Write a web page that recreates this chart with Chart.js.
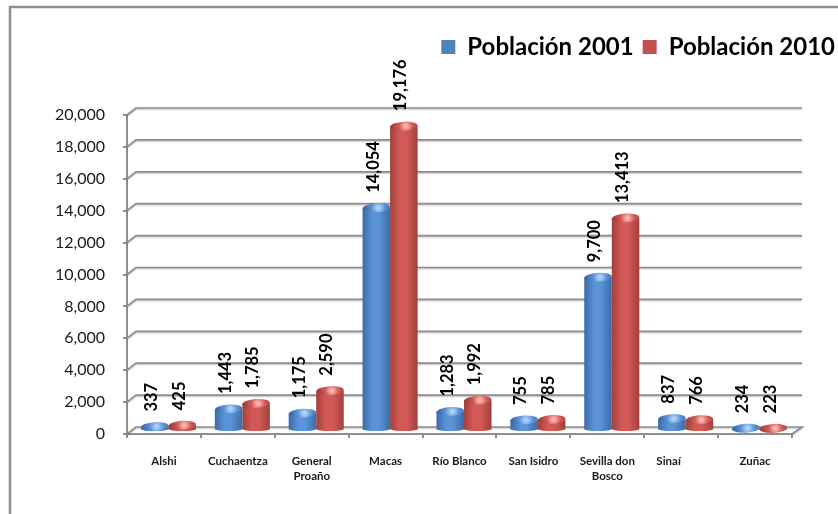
<!DOCTYPE html>
<html>
<head>
<meta charset="utf-8">
<script src="https://cdn.jsdelivr.net/npm/chart.js@4"></script>
<style>
  html, body { margin: 0; background: #fff; }
  canvas { display: block; }
</style>
</head>
<body>
<canvas id="chart" width="838" height="514"></canvas>
<script>
// Datos
const categories = ['Alshi', 'Cuchaentza', ['General', 'Proaño'], 'Macas', 'Río Blanco', 'San Isidro', ['Sevilla don', 'Bosco'], 'Sinaí', 'Zuñac'];
const poblacion2001 = [337, 1443, 1175, 14054, 1283, 755, 9700, 837, 234];
const poblacion2010 = [425, 1785, 2590, 19176, 1992, 785, 13413, 766, 223];

const FONT = 'Lato, Carlito, sans-serif';
const GRID = '#8e8e8e';

// colores del cilindro: borde, claro, brillo
const shades = [
    { edge: '#3b6ba6', mid: '#5b93d8', glow: '#b4d4f7' },
    { edge: '#a33f3c', mid: '#d25a56', glow: '#ffb8b6' }
];

// plano de las barras respecto al eje frontal
const BAR_DX = 4.5, BAR_DY = -2;
const CAP_RY = 4.5;

function drawCylinder(ctx, bar, shade) {
    const cx = bar.x + BAR_DX, w = bar.width, r = w / 2;
    const top = bar.y + BAR_DY, base = bar.base + BAR_DY;

    const g = ctx.createLinearGradient(cx - r, 0, cx + r, 0);
    g.addColorStop(0, shade.edge);
    g.addColorStop(0.35, shade.mid);
    g.addColorStop(0.6, shade.mid);
    g.addColorStop(1, shade.edge);

    ctx.fillStyle = g;
    ctx.beginPath();
    ctx.moveTo(cx - r, top);
    ctx.lineTo(cx - r, base - 2);
    ctx.ellipse(cx, base - 2, r, 2, 0, Math.PI, 0, true);
    ctx.lineTo(cx + r, top);
    ctx.closePath();
    ctx.fill();

    // tapa
    const cap = ctx.createRadialGradient(cx + 2, top, 1, cx + 2, top, r);
    cap.addColorStop(0, shade.glow);
    cap.addColorStop(0.45, shade.mid);
    cap.addColorStop(1, shade.edge);
    ctx.fillStyle = cap;
    ctx.beginPath();
    ctx.ellipse(cx, top, r, CAP_RY, -0.06, 0, Math.PI * 2);
    ctx.fill();
}

const threeD = {
    id: 'threeD',
    afterLayout(chart) {
        // la leyenda llega hasta el borde derecho
        const legend = chart.legend;
        const shift = 844 - legend.right;
        legend.left += shift;
        legend.right += shift;
        legend.top = 26;
    },
    beforeDraw(chart) {
        const ctx = chart.ctx;
        ctx.save();
        ctx.strokeStyle = GRID;
        ctx.lineWidth = 2.5;
        ctx.beginPath();
        ctx.moveTo(10, 514);
        ctx.lineTo(10, 7);
        ctx.lineTo(838, 7);
        ctx.stroke();
        ctx.restore();
    },
    beforeDatasetsDraw(chart) {
        const ctx = chart.ctx, y = chart.scales.y, a = chart.chartArea;
        ctx.save();
        ctx.strokeStyle = GRID;
        ctx.lineWidth = 1.7;
        ctx.shadowColor = 'rgba(0,0,0,0.25)';
        ctx.shadowBlur = 1.5;
        ctx.shadowOffsetY = 1;
        y.ticks.forEach(t => {
            const py = y.getPixelForValue(t.value);
            ctx.beginPath();
            ctx.moveTo(a.left, py);
            ctx.lineTo(a.left + 9, py - 7);
            ctx.lineTo(a.right + 10, py - 7);
            if (t.value === 0) ctx.lineTo(a.right, py);
            ctx.stroke();
        });
        ctx.restore();
    },
    beforeDatasetDraw(chart, args) {
        const ctx = chart.ctx;
        ctx.save();
        args.meta.data.forEach(bar => drawCylinder(ctx, bar, shades[args.index]));
        ctx.restore();
        return false;
    },
    afterDatasetsDraw(chart) {
        const ctx = chart.ctx;
        ctx.save();
        ctx.fillStyle = '#000';
        ctx.font = 'bold 16.5px ' + FONT;
        ctx.textAlign = 'left';
        ctx.textBaseline = 'middle';
        chart.data.datasets.forEach((ds, i) => {
            chart.getDatasetMeta(i).data.forEach((bar, j) => {
                ctx.save();
                ctx.translate(bar.x + BAR_DX - 3, bar.y + BAR_DY - CAP_RY - 10.5);
                ctx.rotate(-Math.PI / 2);
                ctx.fillText(ds.data[j].toLocaleString('en-US'), 0, 0);
                ctx.restore();
            });
        });
        ctx.restore();
    }
};

new Chart(document.getElementById('chart'), {
    type: 'bar',
    data: {
        labels: categories,
        datasets: [
            { label: 'Población 2001', data: poblacion2001, backgroundColor: '#4f81bd' },
            { label: 'Población 2010', data: poblacion2010, backgroundColor: '#c0504d' }
        ]
    },
    plugins: [threeD],
    options: {
        responsive: false,
        animation: false,
        barPercentage: 1,
        categoryPercentage: 0.745,
        layout: { padding: { left: 10, top: 72, right: 46, bottom: 20 } },
        plugins: {
            tooltip: { enabled: false },
            legend: {
                position: 'top',
                align: 'end',
                labels: {
                    boxWidth: 14,
                    boxHeight: 14,
                    padding: 9,
                    color: '#000',
                    font: { family: FONT, size: 24, weight: 'bold' }
                }
            }
        },
        scales: {
            x: {
                afterFit(s) { s.height = 60; },
                border: { color: GRID, width: 2 },
                grid: { drawOnChartArea: false, color: GRID, lineWidth: 2, tickLength: 4 },
                ticks: {
                    color: '#1a1a1a',
                    padding: 16,
                    maxRotation: 0,
                    autoSkip: false,
                    font: { family: FONT, size: 11.5, weight: 'bold', lineHeight: 1.3 },
                    // "Sinaí" va descentrado en el original
                    callback(v, i) {
                        const label = categories[i];
                        return label === 'Sinaí' ? label + '\u00a0'.repeat(9) : label;
                    }
                }
            },
            y: {
                min: 0,
                max: 20000,
                afterFit(s) { s.width = 117; },
                border: { color: GRID, width: 2 },
                grid: { drawOnChartArea: false, color: GRID, lineWidth: 2, tickLength: 4 },
                ticks: {
                    stepSize: 2000,
                    color: '#1a1a1a',
                    padding: 18,
                    font: { family: FONT, size: 16 },
                    callback: v => v.toLocaleString('en-US')
                }
            }
        }
    }
});
</script>
</body>
</html>
